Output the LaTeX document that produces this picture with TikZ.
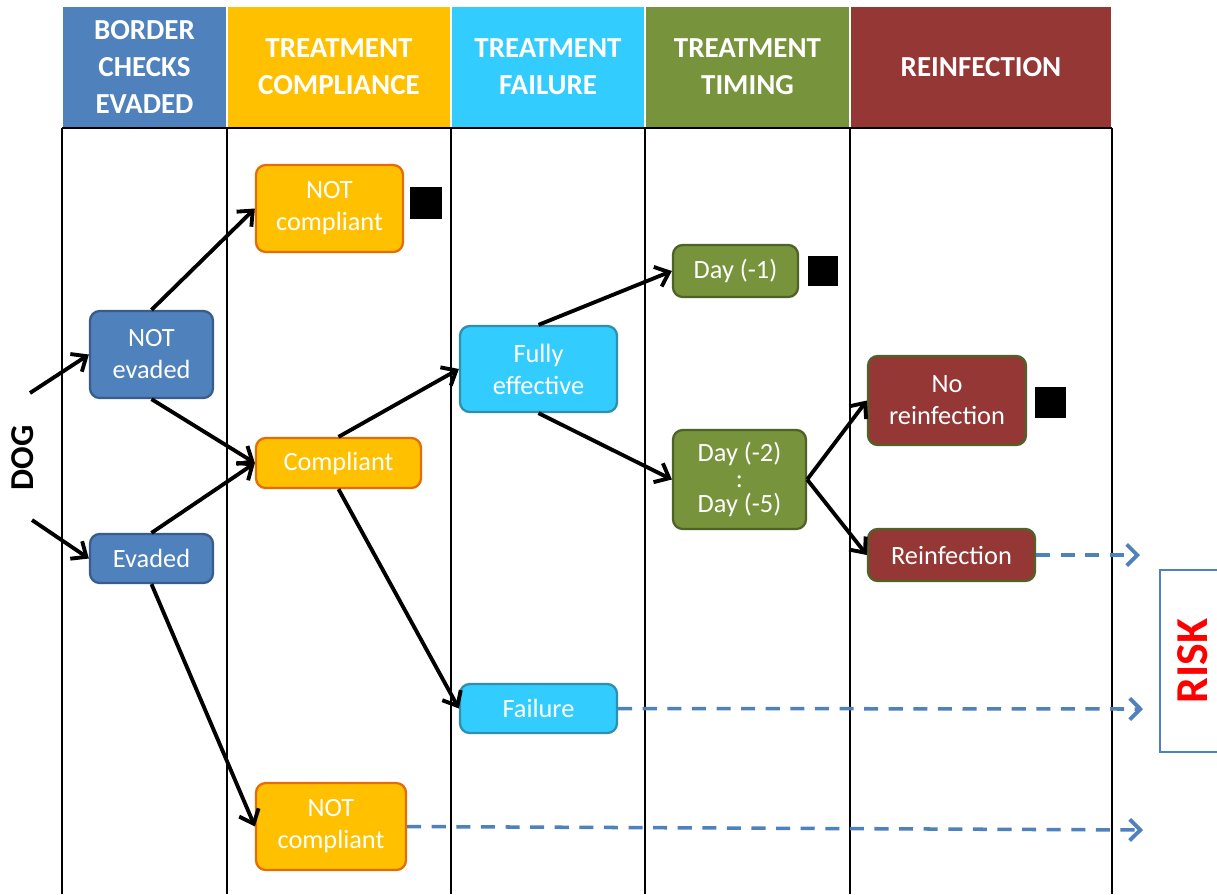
\documentclass[tikz,border=0pt]{standalone}
\usepackage{fontspec}
\setmainfont{Carlito}
\usetikzlibrary{arrows.meta}
\definecolor{cblue}{HTML}{4F81BD}
\definecolor{cbluedk}{HTML}{385D8A}
\definecolor{corange}{HTML}{FFC000}
\definecolor{corangedk}{HTML}{E46C0A}
\definecolor{ccyan}{HTML}{33CCFF}
\definecolor{ccyandk}{HTML}{2E8FAE}
\definecolor{cgreen}{HTML}{77933C}
\definecolor{cgreendk}{HTML}{4F6228}
\definecolor{cred}{HTML}{953735}
\definecolor{criskred}{HTML}{FF0000}
\tikzset{
  hdr/.style={draw=white, line width=0.6pt, text=white, font=\fontsize{16.5}{21}\selectfont\bfseries, align=center, inner sep=0pt},
  box/.style={rounded corners=5.5pt, line width=1.3pt, text=white, font=\fontsize{15}{18.2}\selectfont, align=center, inner sep=0pt},
  bbox/.style={box, fill=cblue, draw=cbluedk},
  obox/.style={box, fill=corange, draw=corangedk},
  cbox/.style={box, fill=ccyan, draw=ccyandk},
  gbox/.style={box, fill=cgreen, draw=cgreendk},
  rbox/.style={box, fill=cred, draw=cgreendk},
  sq/.style={fill=black, inner sep=0pt},
  arr/.style={line width=2.2pt, -{Straight Barb[length=7pt, width=12pt, line width=2.2pt]}},
  darr/.style={draw=cblue, line width=2pt, dash pattern=on 8pt off 6pt, -{Straight Barb[length=6pt, width=12pt, line width=2.2pt]}},
  lane/.style={line width=1.1pt}
}
\begin{document}
\begin{tikzpicture}[x=0.02cm, y=-0.02cm]
\useasboundingbox (0,0) rectangle (1217,894);
\fill[white] (0,0) rectangle (1217,894);
% headers
\node[hdr, fill=cblue, minimum width=3.3cm, minimum height=2.44cm] (h1) at (144.5,67) {BORDER\\CHECKS\\EVADED};
\node[hdr, fill=corange, minimum width=4.48cm, minimum height=2.44cm] (h2) at (339,67) {TREATMENT\\COMPLIANCE};
\node[hdr, fill=ccyan, minimum width=3.88cm, minimum height=2.44cm] (h3) at (548,67) {TREATMENT\\FAILURE};
\node[hdr, fill=cgreen, minimum width=4.1cm, minimum height=2.44cm] (h4) at (747.5,67) {TREATMENT\\TIMING};
\node[hdr, fill=cred, minimum width=5.24cm, minimum height=2.44cm] (h5) at (981,67) {REINFECTION};
% lanes
\draw[lane] (62,128) -- (1112,128);
\foreach \xx in {62,227,451,645,850,1112} \draw[lane] (\xx,128) -- (\xx,894);
% nodes
\node[bbox, minimum width=2.46cm, minimum height=1.74cm] (ne) at (151.5,354.5) {NOT\\evaded};
\node[bbox, minimum width=2.46cm, minimum height=0.98cm] (ev) at (151.5,558.5) {Evaded};
\node[obox, minimum width=2.94cm, minimum height=1.74cm] (nc1) at (329.5,208.5) {NOT\\compliant};
\node[obox, minimum width=3.3cm, minimum height=1.0cm] (co) at (338.5,463) {Compliant};
\node[obox, minimum width=3.0cm, minimum height=1.74cm] (nc2) at (331,826.5) {NOT\\compliant};
\node[cbox, minimum width=3.14cm, minimum height=1.72cm] (fe) at (538.5,369) {Fully\\effective};
\node[cbox, minimum width=3.14cm, minimum height=0.98cm] (fa) at (538.5,708.5) {Failure};
\node[gbox, minimum width=2.5cm, minimum height=1.04cm] (d1) at (735.5,271) {Day (-1)};
\node[gbox, minimum width=2.66cm, minimum height=1.98cm, font=\fontsize{15}{14.5}\selectfont] (d2) at (739.5,479.5) {Day (-2)\\:\\Day (-5)};
\node[rbox, minimum width=3.16cm, minimum height=1.78cm] (nr) at (947,400.5) {No\\reinfection};
\node[rbox, minimum width=3.34cm, minimum height=1.04cm] (re) at (951.5,555) {Reinfection};
% squares
\node[sq, minimum size=0.64cm] (s1) at (426,203) {};
\node[sq, minimum size=0.6cm] (s2) at (823,271) {};
\node[sq, minimum size=0.62cm] (s3) at (1050.5,402.5) {};
% DOG
\node[rotate=90, font=\fontsize{19}{22}\selectfont\bfseries] (dog) at (23,458) {DOG};
\coordinate (dg1) at (30,393);
\coordinate (dg2) at (32,520);
% RISK
\node[draw=cblue, line width=1.3pt, minimum width=1.4cm, minimum height=3.64cm, inner sep=0pt] (riskbox) at (1195,661) {};
\node[rotate=90, text=criskred, font=\fontsize{26}{30}\selectfont\bfseries] (risk) at (1193,661) {RISK};
% arrows
\draw[arr] (dg1) -- (ne.west);
\draw[arr] (dg2) -- (ev.west);
\draw[arr] (ne.north) -- (nc1.west);
\draw[arr] (ne.south) -- (co.west);
\draw[arr] (ev.north) -- (co.west);
\draw[arr] (ev.south) -- (nc2.west);
\draw[arr] (co.north) -- (fe.west);
\draw[arr] (co.south) -- (fa.west);
\draw[arr] (fe.north) -- (d1.west);
\draw[arr] (fe.south) -- (d2.west);
\draw[arr] (d2.east) -- (nr.west);
\draw[arr] (d2.east) -- (re.west);
% dashed
\coordinate (e1) at (1140,555);
\coordinate (e2) at (1143,709);
\coordinate (e3) at (1143,830);
\draw[darr] (re.east) -- (e1);
\draw[darr] (fa.east) -- (e2);
\draw[darr] (nc2.east) -- (e3);
\end{tikzpicture}
\end{document}
